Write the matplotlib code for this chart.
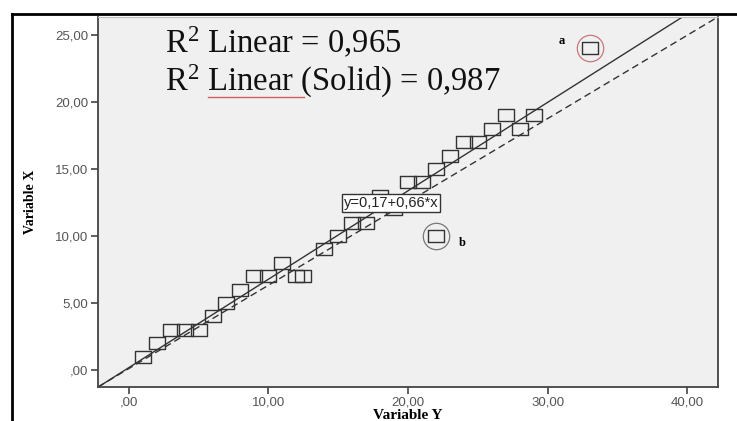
import matplotlib
matplotlib.use("Agg")
import matplotlib.pyplot as plt
from matplotlib.path import Path
from matplotlib.lines import Line2D
from matplotlib.ticker import FuncFormatter
import numpy as np

# ---- data ----
var_y = [1, 2, 3, 4, 5, 6, 7, 8, 9, 10, 11, 12, 12.5, 14, 15, 16, 17, 18, 19,
         20, 21, 22, 23, 24, 25, 26, 27, 28, 29]
var_x = [1, 2, 3, 3, 3, 4, 5, 6, 7, 7, 8, 7, 7, 9, 10, 11, 11, 13, 12,
         14, 14, 15, 16, 17, 17, 18, 19, 18, 19]
outlier_y = [33, 22]
outlier_x = [24, 10]
outlier_labels = ["a", "b"]
fit_solid = (0.17, 0.66)    # intercept, slope (solid line)
fit_all = (0.10, 0.622)     # intercept, slope (dashed line)
xticks = [0, 10, 20, 30, 40]
yticks = [0, 5, 10, 15, 20, 25]
r2_texts = ["R$^2$ Linear = 0,965", "R$^2$ Linear (Solid) = 0,987"]
eq_text = "y=0,17+0,66*x"

plt.rcParams['mathtext.fontset'] = 'custom'
plt.rcParams['mathtext.rm'] = 'Liberation Serif'
plt.rcParams['mathtext.it'] = 'Liberation Serif:italic'

fig = plt.figure(figsize=(7.37, 4.21), dpi=100)
fig.patch.set_facecolor('white')
ax = fig.add_axes([98/737, 1-387/421, 620/737, 370/421])
ax.set_facecolor('#f0f0f0')
ax.set_xlim(-2.2, 42.2)
ax.set_ylim(-1.27, 26.34)

rect = Path([(-1, -0.8), (1, -0.8), (1, 0.8), (-1, 0.8), (-1, -0.8)],
            [Path.MOVETO, Path.LINETO, Path.LINETO, Path.LINETO, Path.CLOSEPOLY])

ax.plot(var_y, var_x, linestyle='none', marker=rect, markersize=11,
        markerfacecolor='none', markeredgecolor='#333333', markeredgewidth=1.0, zorder=3)
ax.plot(outlier_y, outlier_x, linestyle='none', marker=rect, markersize=11,
        markerfacecolor='none', markeredgecolor='#333333', markeredgewidth=1.0, zorder=3)
ax.plot(outlier_y[0], outlier_x[0], 'o', markersize=19, markerfacecolor='none',
        markeredgecolor='#c87878', markeredgewidth=0.9, zorder=3)
ax.plot(outlier_y[1], outlier_x[1], 'o', markersize=19, markerfacecolor='none',
        markeredgecolor='#777777', markeredgewidth=0.9, zorder=3)

ax.annotate(outlier_labels[0], (outlier_y[0], outlier_x[0]), xytext=(-20, 5),
            textcoords='offset points', fontsize=9, fontweight='bold',
            family='Liberation Serif', ha='center', va='center')
ax.annotate(outlier_labels[1], (outlier_y[1], outlier_x[1]), xytext=(19, -5),
            textcoords='offset points', fontsize=9, fontweight='bold',
            family='Liberation Serif', ha='center', va='center')

xs = np.array([-2.2, 42.2])
ax.plot(xs, fit_solid[0] + fit_solid[1]*xs, color='#333333', lw=1.0, zorder=2)
ax.plot(xs, fit_all[0] + fit_all[1]*xs, color='#333333', lw=1.0,
        linestyle=(0, (5, 3)), zorder=2)

ax.text(18.8, 12.46, eq_text, fontsize=10.5, family='Liberation Sans', color='#222222',
        ha='center', va='center', zorder=5,
        bbox=dict(boxstyle='square,pad=0.12', fc='white', ec='#333333', lw=1.0))

ax.text(0.108, 0.903, r2_texts[0], transform=ax.transAxes, fontsize=23.5,
        family='Liberation Serif', ha='left', va='baseline', color='#111111')
ax.text(0.108, 0.800, r2_texts[1], transform=ax.transAxes, fontsize=23.5,
        family='Liberation Serif', ha='left', va='baseline', color='#111111')
# red spell-check underline under "Linear"
fig.add_artist(Line2D([208/737, 304/737], [1-97/421, 1-97/421], color='#d06060', lw=1.0))

fmt = FuncFormatter(lambda v, p: ',00' if v == 0 else f"{v:.2f}".replace('.', ','))
ax.set_xticks(xticks)
ax.set_yticks(yticks)
ax.xaxis.set_major_formatter(fmt)
ax.yaxis.set_major_formatter(fmt)
ax.tick_params(axis='both', labelsize=9.5, labelcolor='#555555', color='#444444',
               length=5, width=1.2, direction='out', pad=2)
for lab in ax.get_xticklabels() + ax.get_yticklabels():
    lab.set_family('Liberation Sans')

for side in ['left', 'bottom', 'right']:
    ax.spines[side].set_color('#444444')
    ax.spines[side].set_linewidth(1.3)
ax.spines['top'].set_color('#bbbbbb')
ax.spines['top'].set_linewidth(0.8)

fig.text(30/737, (1-202/421), 'Variable X', rotation=90, fontsize=10,
         family='Liberation Serif', fontweight='bold', ha='center', va='center')
fig.text(408/737, 1-409/421, 'Variable Y', fontsize=11,
         family='Liberation Serif', fontweight='bold', ha='center', va='top')

# outer frame
fig.add_artist(Line2D([12/737, 1.0], [1-14/421, 1-14/421], color='black', lw=2))
fig.add_artist(Line2D([12/737, 12/737], [0.0, 1-14/421], color='black', lw=2))

fig.savefig('out.png', dpi=100)
